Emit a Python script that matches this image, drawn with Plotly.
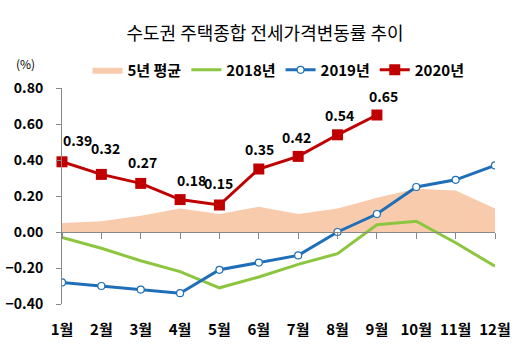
import plotly.graph_objects as go

months = ["1월", "2월", "3월", "4월", "5월", "6월", "7월", "8월", "9월", "10월", "11월", "12월"]
avg5 = [0.05, 0.06, 0.09, 0.13, 0.10, 0.14, 0.10, 0.13, 0.19, 0.24, 0.23, 0.13]
y2018 = [-0.03, -0.09, -0.16, -0.22, -0.31, -0.25, -0.18, -0.12, 0.04, 0.06, -0.06, -0.19]
y2019 = [-0.28, -0.30, -0.32, -0.34, -0.21, -0.17, -0.13, 0.00, 0.10, 0.25, 0.29, 0.37]
y2020 = [0.39, 0.32, 0.27, 0.18, 0.15, 0.35, 0.42, 0.54, 0.65]
yticks = [-0.4, -0.2, 0.0, 0.2, 0.4, 0.6, 0.8]

# label offsets (style), pixels
lbl_dx = [15, 4, 2, 11, -1, 1, -2, 2, 7]
lbl_dy = [22, 26, 21, 20, 22, 20, 19, 20, 19]

FONT = "Noto Sans CJK KR"
xs = list(range(len(months)))

fig = go.Figure()
fig.add_trace(go.Scatter(x=xs, y=avg5, name="5년 평균", mode="lines", fill="tozeroy",
                         line=dict(width=0, color="#F8CBAD"), fillcolor="#F8CBAD"))
fig.add_trace(go.Scatter(x=xs, y=y2018, name="2018년", mode="lines",
                         line=dict(width=3, color="#8CC63F")))
fig.add_trace(go.Scatter(x=xs, y=y2019, name="2019년", mode="lines+markers",
                         line=dict(width=3, color="#1F6FB8"),
                         marker=dict(symbol="circle", size=7, color="white",
                                     line=dict(width=1.2, color="#1F6FB8"))))
fig.add_trace(go.Scatter(x=xs[:len(y2020)], y=y2020, name="2020년", mode="lines+markers",
                         line=dict(width=3, color="#C00000"), cliponaxis=False,
                         marker=dict(symbol="square", size=11, color="#C00000")))
# dummy trace for bottom category labels
fig.add_trace(go.Scatter(x=xs, y=[None]*len(xs), xaxis="x2", showlegend=False, hoverinfo="skip"))

annotations = []
for i, v in enumerate(y2020):
    annotations.append(dict(x=xs[i], y=v, xref="x", yref="y", text=f"{v:.2f}",
                            showarrow=False, xanchor="center", yanchor="middle",
                            xshift=lbl_dx[i], yshift=lbl_dy[i],
                            font=dict(family=FONT, size=14, color="black", weight="bold")))
annotations.append(dict(text="(%)", xref="paper", yref="paper", x=-0.085, y=1.115,
                        xanchor="center", yanchor="middle", showarrow=False,
                        font=dict(family=FONT, size=12, color="black")))

fig.update_layout(
    width=530, height=346,
    margin=dict(l=62, r=35, t=88, b=42),
    paper_bgcolor="white", plot_bgcolor="white",
    font=dict(family=FONT, color="black"),
    title=dict(text="수도권 주택종합 전세가격변동률 추이", x=0.5, xanchor="center",
               y=0.903, yanchor="middle", font=dict(family=FONT, size=18, color="black")),
    showlegend=True,
    legend=dict(orientation="h", x=0.5, xanchor="center", y=1.083, yanchor="middle",
                font=dict(family=FONT, size=15, color="black", weight="bold"),
                itemwidth=30, tracegroupgap=0, bgcolor="rgba(0,0,0,0)"),
    xaxis=dict(range=[0, 11], tickvals=xs, showticklabels=False,
               showline=True, linecolor="#888888", linewidth=1,
               ticks="outside", ticklen=6, tickcolor="#888888", automargin=False,
               anchor="free", position=0.4/1.2, showgrid=False, zeroline=False),
    xaxis2=dict(range=[0, 11], tickvals=xs, ticktext=months, overlaying="x",
                side="bottom", anchor="y", showline=False, ticks="", showgrid=False,
                zeroline=False, ticklabelstandoff=15, automargin=False,
                tickfont=dict(family=FONT, size=15, color="black", weight="bold")),
    yaxis=dict(range=[-0.4, 0.8], tickvals=yticks, tickformat=".2f",
               showline=True, linecolor="#888888", linewidth=1,
               ticks="outside", ticklen=5, tickcolor="#888888", automargin=False,
               showgrid=False, zeroline=False, ticklabelstandoff=10,
               tickfont=dict(family=FONT, size=14, color="black", weight="bold")),
    annotations=annotations,
)

fig.write_html("out.html")
